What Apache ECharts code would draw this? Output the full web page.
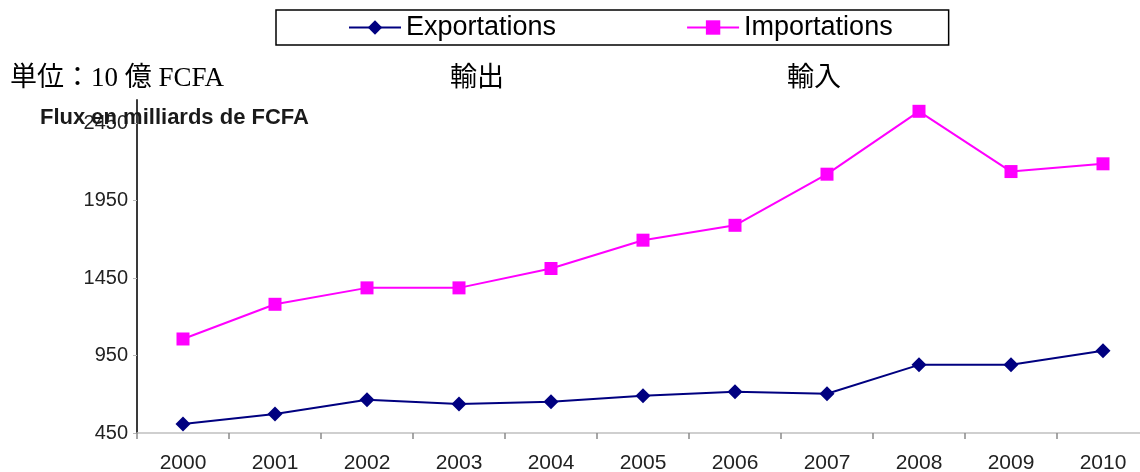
<!DOCTYPE html>
<html>
<head>
<meta charset="utf-8">
<script src="https://cdn.jsdelivr.net/npm/echarts@6/dist/echarts.min.js"></script>
<style>
html,body{margin:0;padding:0;background:#fff;}
#chart{width:1140px;height:472px;}
</style>
</head>
<body>
<div id="chart"></div>
<script>
// ---- data ----
const years = ['2000','2001','2002','2003','2004','2005','2006','2007','2008','2009','2010'];
const exportations = [508, 573, 664, 638, 651, 690, 716, 703, 890, 890, 981];
const importations = [1057, 1281, 1387, 1387, 1512, 1695, 1791, 2121, 2527, 2138, 2188];
const yTicks = [450, 950, 1450, 1950, 2450];
const seriesNames = ['Exportations', 'Importations'];
const unitLabel = '単位：10 億 FCFA';
const exportLabelJa = '輸出';
const importLabelJa = '輸入';
const axisTitle = 'Flux en milliards de FCFA';

const sans = "'Liberation Sans', Arial, sans-serif";
const serifCJK = "'Liberation Serif', 'Noto Sans CJK JP', serif";

const chart = echarts.init(document.getElementById('chart'), null, {renderer: 'canvas'});
chart.setOption({
  animation: false,
  backgroundColor: '#ffffff',
  title: [
    {text: unitLabel, left: 10, top: 65, padding: 0,
     textStyle: {fontFamily: serifCJK, fontSize: 27, fontWeight: 'normal', color: '#000'}},
    {text: exportLabelJa, left: 450, top: 65, padding: 0,
     textStyle: {fontFamily: serifCJK, fontSize: 27, fontWeight: 'normal', color: '#000'}},
    {text: importLabelJa, left: 787, top: 65, padding: 0,
     textStyle: {fontFamily: serifCJK, fontSize: 27, fontWeight: 'normal', color: '#000'}},
    {text: axisTitle, left: 40, top: 107, padding: 0,
     textStyle: {fontFamily: sans, fontSize: 22, fontWeight: 'bold', color: '#1a1a1a'}}
  ],
  legend: {
    data: seriesNames,
    left: 276, top: 10,
    padding: [4, 56, 4, 72],
    itemGap: 130,
    itemWidth: 52, itemHeight: 18,
    borderColor: '#000', borderWidth: 1.5,
    textStyle: {fontFamily: sans, fontSize: 27, color: '#000'}
  },
  grid: {left: 137, top: 100, width: 1012, height: 333, containLabel: false, outerBoundsMode: 'none'},
  xAxis: {
    type: 'category',
    data: years,
    boundaryGap: true,
    axisLine: {lineStyle: {color: '#c0c0c0', width: 1.5}},
    axisTick: {show: true, length: 6, lineStyle: {color: '#8a8a8a', width: 1.5}},
    axisLabel: {fontFamily: sans, fontSize: 21, color: '#222', margin: 20}
  },
  yAxis: {
    type: 'value',
    min: 450, max: 2600,
    splitLine: {show: false},
    axisLine: {show: true, onZero: false, lineStyle: {color: '#3a3a3a', width: 2}},
    axisTick: {show: true, length: 4, inside: false, customValues: yTicks, lineStyle: {color: '#b8b8b8'}},
    axisLabel: {fontFamily: sans, fontSize: 20, color: '#222', margin: 9, customValues: yTicks,
                formatter: function (v) { return String(v); }}
  },
  series: [
    {
      name: seriesNames[0], type: 'line', data: exportations,
      symbol: 'diamond', symbolSize: 15,
      lineStyle: {color: '#000080', width: 2},
      itemStyle: {color: '#000080'}
    },
    {
      name: seriesNames[1], type: 'line', data: importations,
      symbol: 'rect', symbolSize: 13,
      lineStyle: {color: '#ff00ff', width: 2},
      itemStyle: {color: '#ff00ff'}
    }
  ]
});
</script>
</body>
</html>
